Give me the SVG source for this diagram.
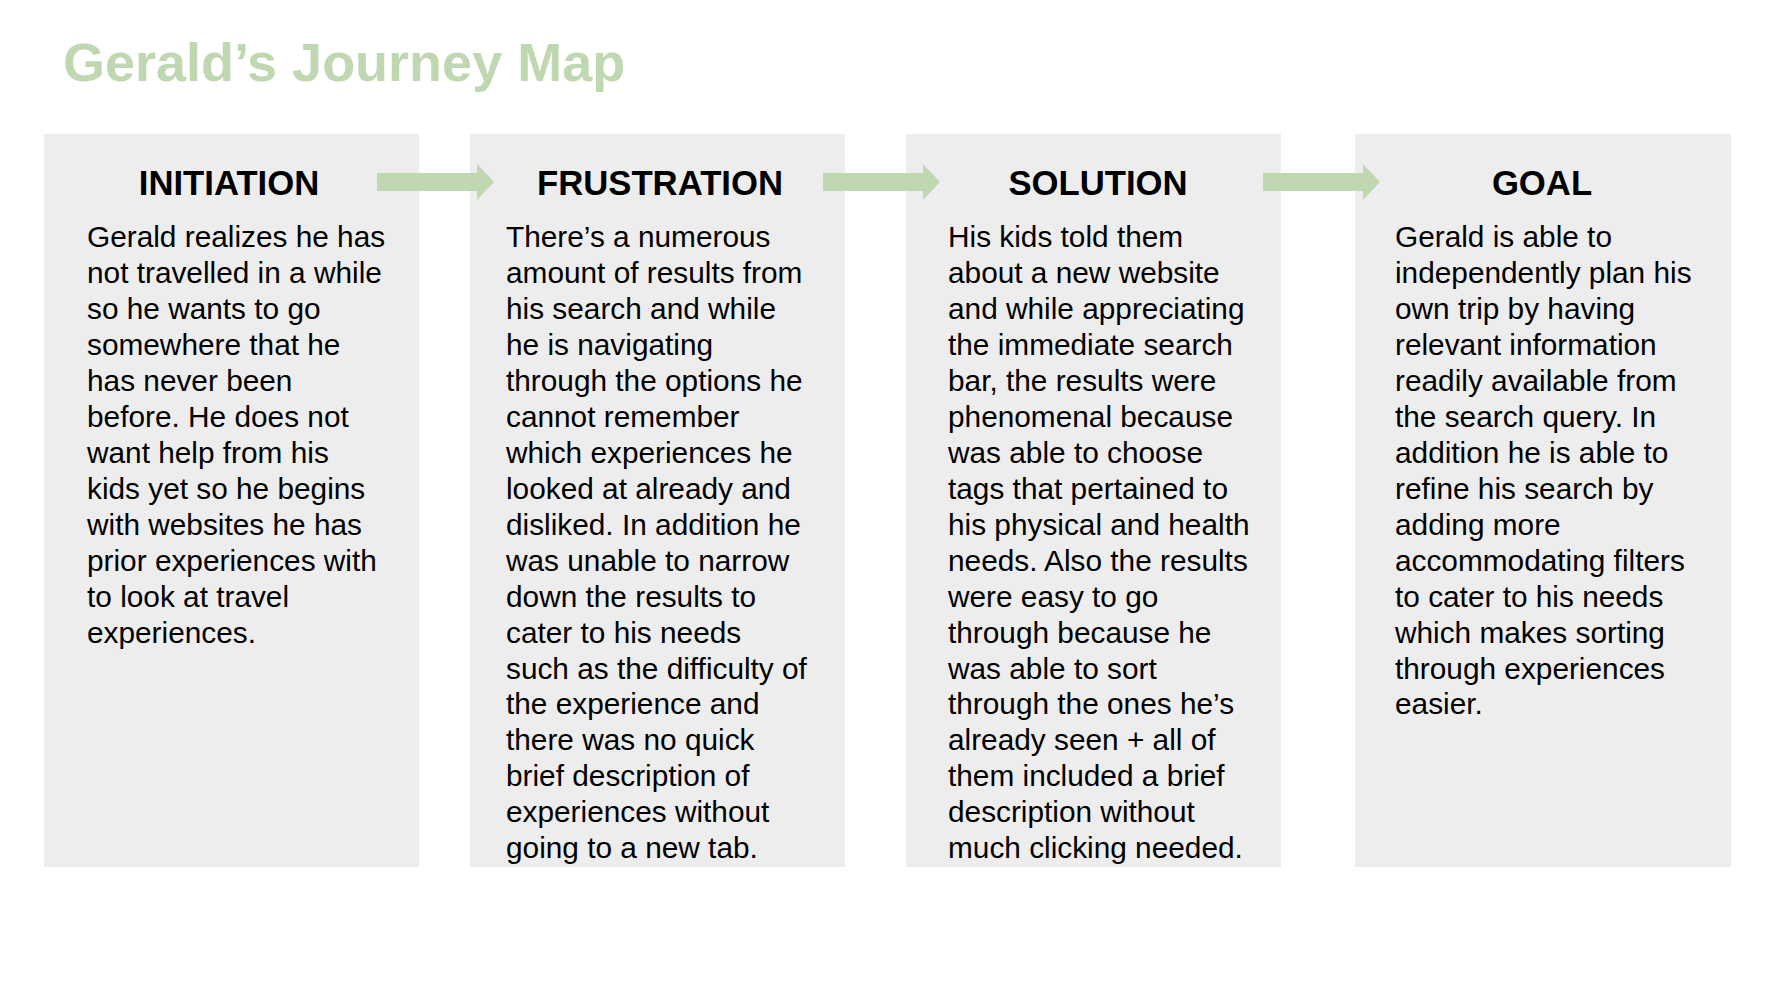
<svg xmlns="http://www.w3.org/2000/svg" width="1772" height="982" viewBox="0 0 1772 982">
  <style>
    .panel { fill: #EDEDED; }
    .title { font-family: "Liberation Sans", Arial, sans-serif; font-weight: bold; font-size: 54px; fill: #BFD8B1; }
    .head { font-family: "Liberation Sans", Arial, sans-serif; font-weight: bold; font-size: 34.7px; fill: #000; text-anchor: middle; }
    .body { font-family: "Liberation Sans", Arial, sans-serif; font-size: 29.8px; fill: #000; }
    .arrow { fill: #BFD8B1; }
  </style>
  <defs>
    <!-- block arrow: 100px shaft, 17px head, centred on y=0 -->
    <path id="blockArrow" class="arrow" d="M0,-9 H100 V-18 L117,0 L100,18 V9 H0 Z"/>
  </defs>

  <rect width="1772" height="982" fill="#FFFFFF"/>

  <text class="title" x="63" y="81">Gerald’s Journey Map</text>

  <g id="initiation">
    <rect class="panel" x="44" y="134" width="375" height="733"/>
    <text class="head" x="229" y="195">INITIATION</text>
    <text class="body" x="87" y="247">
      <tspan x="87" dy="0">Gerald realizes he has</tspan>
      <tspan x="87" dy="35.96">not travelled in a while</tspan>
      <tspan x="87" dy="35.96">so he wants to go</tspan>
      <tspan x="87" dy="35.96">somewhere that he</tspan>
      <tspan x="87" dy="35.96">has never been</tspan>
      <tspan x="87" dy="35.96">before. He does not</tspan>
      <tspan x="87" dy="35.96">want help from his</tspan>
      <tspan x="87" dy="35.96">kids yet so he begins</tspan>
      <tspan x="87" dy="35.96">with websites he has</tspan>
      <tspan x="87" dy="35.96">prior experiences with</tspan>
      <tspan x="87" dy="35.96">to look at travel</tspan>
      <tspan x="87" dy="35.96">experiences.</tspan>
    </text>
  </g>

  <g id="frustration">
    <rect class="panel" x="470" y="134" width="375" height="733"/>
    <text class="head" x="660" y="195">FRUSTRATION</text>
    <text class="body" x="506" y="247">
      <tspan x="506" dy="0">There’s a numerous</tspan>
      <tspan x="506" dy="35.96">amount of results from</tspan>
      <tspan x="506" dy="35.96">his search and while</tspan>
      <tspan x="506" dy="35.96">he is navigating</tspan>
      <tspan x="506" dy="35.96">through the options he</tspan>
      <tspan x="506" dy="35.96">cannot remember</tspan>
      <tspan x="506" dy="35.96">which experiences he</tspan>
      <tspan x="506" dy="35.96">looked at already and</tspan>
      <tspan x="506" dy="35.96">disliked. In addition he</tspan>
      <tspan x="506" dy="35.96">was unable to narrow</tspan>
      <tspan x="506" dy="35.96">down the results to</tspan>
      <tspan x="506" dy="35.96">cater to his needs</tspan>
      <tspan x="506" dy="35.96">such as the difficulty of</tspan>
      <tspan x="506" dy="35.96">the experience and</tspan>
      <tspan x="506" dy="35.96">there was no quick</tspan>
      <tspan x="506" dy="35.96">brief description of</tspan>
      <tspan x="506" dy="35.96">experiences without</tspan>
      <tspan x="506" dy="35.96">going to a new tab.</tspan>
    </text>
  </g>

  <g id="solution">
    <rect class="panel" x="906" y="134" width="375" height="733"/>
    <text class="head" x="1098" y="195">SOLUTION</text>
    <text class="body" x="948" y="247">
      <tspan x="948" dy="0">His kids told them</tspan>
      <tspan x="948" dy="35.96">about a new website</tspan>
      <tspan x="948" dy="35.96">and while appreciating</tspan>
      <tspan x="948" dy="35.96">the immediate search</tspan>
      <tspan x="948" dy="35.96">bar, the results were</tspan>
      <tspan x="948" dy="35.96">phenomenal because</tspan>
      <tspan x="948" dy="35.96">was able to choose</tspan>
      <tspan x="948" dy="35.96">tags that pertained to</tspan>
      <tspan x="948" dy="35.96">his physical and health</tspan>
      <tspan x="948" dy="35.96">needs. Also the results</tspan>
      <tspan x="948" dy="35.96">were easy to go</tspan>
      <tspan x="948" dy="35.96">through because he</tspan>
      <tspan x="948" dy="35.96">was able to sort</tspan>
      <tspan x="948" dy="35.96">through the ones he’s</tspan>
      <tspan x="948" dy="35.96">already seen + all of</tspan>
      <tspan x="948" dy="35.96">them included a brief</tspan>
      <tspan x="948" dy="35.96">description without</tspan>
      <tspan x="948" dy="35.96">much clicking needed.</tspan>
    </text>
  </g>

  <g id="goal">
    <rect class="panel" x="1355" y="134" width="376" height="733"/>
    <text class="head" x="1542" y="195">GOAL</text>
    <text class="body" x="1395" y="247">
      <tspan x="1395" dy="0">Gerald is able to</tspan>
      <tspan x="1395" dy="35.96">independently plan his</tspan>
      <tspan x="1395" dy="35.96">own trip by having</tspan>
      <tspan x="1395" dy="35.96">relevant information</tspan>
      <tspan x="1395" dy="35.96">readily available from</tspan>
      <tspan x="1395" dy="35.96">the search query. In</tspan>
      <tspan x="1395" dy="35.96">addition he is able to</tspan>
      <tspan x="1395" dy="35.96">refine his search by</tspan>
      <tspan x="1395" dy="35.96">adding more</tspan>
      <tspan x="1395" dy="35.96">accommodating filters</tspan>
      <tspan x="1395" dy="35.96">to cater to his needs</tspan>
      <tspan x="1395" dy="35.96">which makes sorting</tspan>
      <tspan x="1395" dy="35.96">through experiences</tspan>
      <tspan x="1395" dy="35.96">easier.</tspan>
    </text>
  </g>

  <g id="connectors">
    <use href="#blockArrow" x="377" y="182"/>
    <use href="#blockArrow" x="823" y="182"/>
    <use href="#blockArrow" x="1263" y="182"/>
  </g>
</svg>
